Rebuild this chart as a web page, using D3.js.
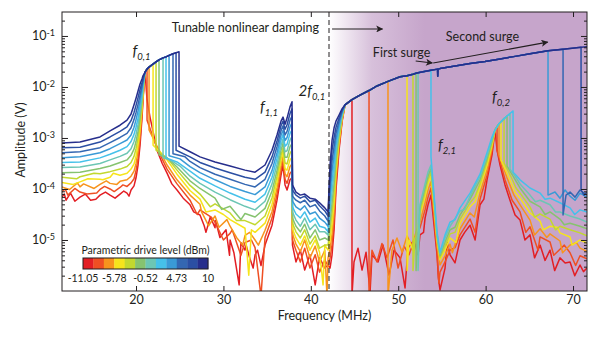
<!DOCTYPE html>
<html>
<head>
<meta charset="utf-8">
<script src="https://cdn.jsdelivr.net/npm/d3@7"></script>
<style>
  body { margin: 0; background: #fff; }
  text { font-family: Lato, 'Open Sans', sans-serif; fill: #231f20; }
</style>
</head>
<body>
<svg id="chart" width="609" height="337"></svg>
<script>
// drive levels (dBm), one sweep per level, red = lowest, navy = highest
const levels = [-11.05, -9.14, -7.22, -5.31, -3.40, -1.48, 0.43, 2.35, 4.26, 6.17, 8.09, 10]
const colors = ['#e31e24', '#ef4f23', '#f7941d', '#f6e41c', '#c2d82f', '#86c36f', '#6cc6b4', '#45c1ea', '#3a9ad6', '#3467b2', '#2b4fa3', '#262e8c']
const cbarTicks = [-11.05, -5.78, -0.52, 4.73, 10]

// all amplitudes are log10(V)
// left wing of f0,1
const fLeft = [11.5, 13.59, 15.88, 17.03, 18.17, 18.97, 19.43, 19.77, 20.0, 20.23, 20.46, 20.69, 20.80, 20.92]
const aLeft = [
  [-4.16, -4.16, -4.12, -4.12, -4.10, -4.08, -4.02, -3.94, -3.78, -3.53, -3.14, -2.59, -2.25, -1.96],
  [-4.06, -4.06, -4.01, -4.00, -3.97, -3.95, -3.88, -3.80, -3.64, -3.40, -3.03, -2.52, -2.21, -1.94],
  [-3.96, -3.96, -3.91, -3.89, -3.85, -3.82, -3.75, -3.65, -3.50, -3.26, -2.92, -2.45, -2.17, -1.92],
  [-3.87, -3.86, -3.81, -3.77, -3.73, -3.69, -3.61, -3.51, -3.36, -3.13, -2.81, -2.38, -2.13, -1.90],
  [-3.77, -3.76, -3.70, -3.66, -3.61, -3.56, -3.48, -3.36, -3.21, -3.00, -2.70, -2.32, -2.08, -1.88],
  [-3.68, -3.67, -3.60, -3.55, -3.48, -3.43, -3.34, -3.22, -3.07, -2.87, -2.59, -2.25, -2.04, -1.86],
  [-3.58, -3.57, -3.50, -3.43, -3.36, -3.30, -3.21, -3.07, -2.93, -2.74, -2.48, -2.18, -2.00, -1.84],
  [-3.48, -3.47, -3.39, -3.32, -3.24, -3.17, -3.07, -2.93, -2.79, -2.61, -2.38, -2.11, -1.95, -1.82],
  [-3.39, -3.37, -3.29, -3.21, -3.11, -3.04, -2.94, -2.79, -2.64, -2.47, -2.27, -2.04, -1.91, -1.80],
  [-3.29, -3.27, -3.19, -3.09, -2.99, -2.91, -2.80, -2.64, -2.50, -2.34, -2.16, -1.98, -1.87, -1.78],
  [-3.19, -3.18, -3.08, -2.98, -2.87, -2.78, -2.66, -2.50, -2.36, -2.21, -2.05, -1.91, -1.83, -1.76],
  [-3.10, -3.08, -2.98, -2.86, -2.75, -2.65, -2.53, -2.35, -2.22, -2.08, -1.94, -1.84, -1.78, -1.75]
]
const nLeft = [
  [[11.8, -4.10], [12.0, -4.22], [12.5, -4.08], [13.0, -4.24], [14.2, -4.10], [14.8, -4.22], [15.4, -4.20], [16.5, -4.06], [17.6, -4.18], [18.6, -4.04], [19.2, -4.14]],
  [[11.9, -4.00], [12.2, -4.12], [13.0, -3.99], [14.4, -4.10], [15.5, -4.08], [16.4, -3.95], [17.5, -4.05], [18.5, -3.92]],
  [[12.4, -4.01], [13.3, -3.88], [14.0, -3.90], [15.2, -3.99], [16.6, -3.84], [17.8, -3.91]],
  [[12.8, -3.91], [14.5, -3.80], [16.2, -3.82], [17.4, -3.69]],
  [[13.2, -3.80], [15.2, -3.69]]
]

// upper branch of f0,1 and where each sweep leaves it
const ridge1 = [[21.03, -1.71], [21.26, -1.65], [21.49, -1.61], [21.95, -1.55], [22.29, -1.51], [22.63, -1.47],
  [23.09, -1.43], [23.43, -1.41], [23.78, -1.38], [24.23, -1.35], [24.58, -1.33], [24.92, -1.31]]
const jump1 = [21.03, 21.26, 21.49, 21.95, 22.29, 22.63, 23.09, 23.43, 23.78, 24.23, 24.58, 24.92]

// right wing of f0,1 up to f1,1 / 2f0,1
const rightStart = [
  [[21.26, -2.25], [21.60, -2.59], [22.40, -3.24], [23.0, -3.50], [23.55, -3.69], [24.1, -3.90], [24.69, -4.02], [25.4, -4.18]],
  [[21.26, -2.65], [22.40, -3.20], [23.55, -3.61], [24.69, -3.90]],
  [[21.49, -2.84], [22.40, -3.16], [23.55, -3.53], [24.69, -3.82]],
  [[21.95, -3.14], [22.75, -3.27], [23.55, -3.43], [24.69, -3.71]],
  [[22.29, -3.24], [23.55, -3.39], [24.69, -3.63]],
  [[22.63, -3.33], [23.55, -3.39], [24.69, -3.57]],
  [[23.09, -3.39], [23.89, -3.43], [25.03, -3.55]],
  [[23.43, -3.39], [24.69, -3.47]],
  [[23.78, -3.35], [25.03, -3.41]],
  [[24.23, -3.31], [25.61, -3.37]],
  [[24.58, -3.24]],
  [[24.92, -3.16]]
]
const fRight = [26.18, 27.32, 29.04, 30.76, 32.47, 33.62, 34.76, 35.56, 36.13, 36.59, 36.82, 37.05, 37.28, 37.62, 37.85]
const aRight = [
  [-4.31, -4.51, -4.76, -5.00, -5.20, -5.29, -5.10, -4.71, -4.22, -3.73, -3.53, -3.92, -4.02, -3.82, -3.78],
  [-4.22, -4.41, -4.65, -4.87, -5.05, -5.15, -4.95, -4.57, -4.10, -3.63, -3.44, -3.81, -3.89, -3.69, -3.65],
  [-4.12, -4.30, -4.53, -4.73, -4.91, -5.00, -4.81, -4.44, -3.98, -3.53, -3.36, -3.70, -3.76, -3.56, -3.51],
  [-4.03, -4.20, -4.41, -4.60, -4.77, -4.85, -4.67, -4.30, -3.87, -3.44, -3.27, -3.60, -3.63, -3.43, -3.38],
  [-3.93, -4.10, -4.29, -4.47, -4.62, -4.70, -4.53, -4.17, -3.75, -3.34, -3.19, -3.49, -3.51, -3.30, -3.24],
  [-3.84, -3.99, -4.18, -4.34, -4.48, -4.55, -4.38, -4.04, -3.64, -3.24, -3.10, -3.38, -3.38, -3.17, -3.11],
  [-3.75, -3.89, -4.06, -4.21, -4.34, -4.41, -4.24, -3.90, -3.52, -3.15, -3.02, -3.27, -3.25, -3.04, -2.97],
  [-3.65, -3.79, -3.94, -4.08, -4.20, -4.26, -4.10, -3.77, -3.40, -3.05, -2.93, -3.16, -3.12, -2.91, -2.84],
  [-3.56, -3.68, -3.82, -3.95, -4.05, -4.11, -3.96, -3.64, -3.29, -2.95, -2.85, -3.05, -2.99, -2.78, -2.70],
  [-3.46, -3.58, -3.71, -3.81, -3.91, -3.96, -3.81, -3.50, -3.17, -2.86, -2.76, -2.94, -2.87, -2.65, -2.57],
  [-3.37, -3.48, -3.59, -3.68, -3.77, -3.81, -3.67, -3.37, -3.06, -2.76, -2.67, -2.83, -2.74, -2.52, -2.43],
  [-3.27, -3.37, -3.47, -3.55, -3.63, -3.67, -3.53, -3.24, -2.94, -2.67, -2.59, -2.73, -2.61, -2.39, -2.29]
]
const nRight = [
  [[26.6, -4.45], [27.8, -4.72], [28.0, -4.85], [28.5, -4.55], [29.1, -4.62], [29.6, -4.95], [30.3, -4.80], [30.7, -5.30], [31.2, -5.25],
    [31.8, -5.88], [32.0, -5.05], [32.6, -5.10], [33.0, -5.35], [33.4, -5.55], [33.9, -5.20], [34.3, -5.50]],
  [[27.0, -4.50], [28.6, -4.55], [30.0, -5.00], [31.0, -4.80], [32.0, -5.30], [33.2, -5.00], [34.3, -6.1]],
  [[27.5, -4.45], [28.3, -4.72], [29.5, -4.75], [30.4, -4.60], [31.5, -4.95], [32.2, -5.10], [33.0, -4.85], [34.0, -5.10]],
  [[28.0, -4.45], [30.0, -4.50], [32.9, -5.69], [33.2, -4.80]],
  [[28.5, -4.35], [31.5, -4.62]],
  [[29.8, -4.40], [32.0, -4.60]]
]

// low level between 2f0,1 and the damping onset
const fGap = [37.90, 38.3, 38.8, 39.3, 39.9, 40.5, 41.0, 41.6, 41.97]
const aGap = [
  [-5.10, -5.43, -5.20, -5.59, -5.29, -5.88, -5.35, -5.55, -5.49],
  [-5.00, -5.20, -5.43, -5.16, -5.55, -5.29, -5.63, -5.39, -5.51],
  [-4.88, -5.08, -5.23, -5.00, -5.35, -5.12, -5.43, -5.20, -5.35],
  [-4.78, -4.96, -5.10, -4.92, -5.20, -5.00, -5.24, -5.10, -5.20],
  [-4.67, -4.84, -4.96, -4.80, -5.08, -4.92, -5.16, -5.10, -5.10],
  [-4.57, -4.73, -4.84, -4.69, -4.96, -4.80, -5.00, -4.96, -5.00],
  [-4.45, -4.61, -4.73, -4.57, -4.80, -4.69, -4.84, -4.84, -4.90],
  [-4.35, -4.49, -4.57, -4.45, -4.65, -4.57, -4.73, -4.76, -4.84],
  [-4.24, -4.35, -4.41, -4.33, -4.49, -4.45, -4.57, -4.65, -4.73],
  [-4.14, -4.22, -4.27, -4.22, -4.35, -4.31, -4.43, -4.53, -4.63],
  [-4.02, -4.12, -4.18, -4.14, -4.25, -4.22, -4.33, -4.43, -4.53],
  [-3.92, -4.06, -4.12, -4.10, -4.18, -4.20, -4.27, -4.37, -4.45]
]
const nGap = [[], [], [[41.85, -6.1]], [[41.4, -5.88]]]

// rise onto the upper branch above 42 MHz
const fRise = [42.20, 42.43, 42.66, 42.88, 43.23, 43.57]
const aRise = [
  [-5.55, -5.29, -4.80, -4.02, -3.24, -2.69],
  [-5.36, -5.09, -4.62, -3.90, -3.17, -2.66],
  [-5.18, -4.88, -4.44, -3.77, -3.11, -2.64],
  [-5.00, -4.68, -4.26, -3.65, -3.05, -2.62],
  [-4.81, -4.47, -4.08, -3.53, -2.99, -2.59],
  [-4.63, -4.27, -3.89, -3.40, -2.92, -2.57],
  [-4.45, -4.06, -3.71, -3.28, -2.86, -2.55],
  [-4.26, -3.86, -3.53, -3.16, -2.80, -2.52],
  [-4.08, -3.65, -3.35, -3.04, -2.74, -2.50],
  [-3.90, -3.45, -3.17, -2.91, -2.67, -2.48],
  [-3.71, -3.24, -2.99, -2.79, -2.61, -2.45],
  [-3.53, -3.04, -2.80, -2.67, -2.55, -2.43]
]
const ridge2 = [[43.91, -2.35], [44.71, -2.25], [45.63, -2.16], [46.66, -2.07], [47.57, -1.98], [48.83, -1.89],
  [50.21, -1.80], [51.01, -1.78], [51.69, -1.75], [52.04, -1.73], [52.27, -1.72], [52.84, -1.70], [53.75, -1.67],
  [54.5, -1.65], [54.52, -1.79], [54.56, -1.65], [54.78, -1.64], [56.50, -1.59], [58.22, -1.54], [59.93, -1.50],
  [61.65, -1.45], [63.37, -1.40], [65.08, -1.35], [67.14, -1.29], [68.86, -1.26], [70.92, -1.22], [71.6, -1.21]]
const drop2 = [44.71, 46.66, 48.83, 51.01, 51.69, 52.04, 52.27, 53.75, 67.14, 68.86, 70.92, 71.6]

// after the drop: noise, f2,1 and f0,2
const tailA = [
  [[44.71, -6.1], [44.94, -5.43], [45.40, -5.16], [45.86, -5.59], [46.32, -5.24], [46.78, -6.02], [47.00, -5.29], [47.69, -5.43],
    [48.26, -5.10], [48.95, -5.69], [49.52, -5.20], [50.21, -5.35], [50.78, -5.94], [51.12, -5.16], [51.81, -5.00], [52.27, -5.29]],
  [[46.66, -6.1], [47.00, -5.20], [47.57, -5.43], [48.14, -5.07], [48.72, -5.35], [49.40, -5.00], [49.98, -5.55], [50.67, -5.12], [51.24, -5.29], [51.92, -4.96]],
  [[48.83, -6.1], [49.29, -5.20], [49.86, -4.96], [50.44, -5.24], [51.01, -4.92], [51.58, -5.12], [52.04, -4.84]],
  [[51.01, -5.6], [51.24, -5.00], [51.69, -5.20], [52.15, -4.84]],
  [[51.69, -5.6], [51.92, -4.96], [52.27, -5.10]],
  [[52.04, -5.6], [52.27, -4.92]],
  [[52.27, -5.6]],
  []
]
const fMid = [52.49, 53.07, 53.41, 53.75, 54.10, 54.44, 54.78, 55.36, 55.93, 57.07, 58.22, 59.36, 60.16, 60.73]
const aMid = [
  [-4.90, -4.57, -4.31, -4.12, -4.71, -5.29, -5.98, -5.55, -5.29, -5.00, -4.71, -4.31, -3.82, -3.33],
  [-4.76, -4.41, -4.16, -3.98, -4.57, -5.20, -5.63, -5.43, -5.20, -4.90, -4.59, -4.20, -3.73, -3.25],
  [-4.65, -4.27, -4.02, -3.86, -4.45, -5.10, -5.49, -5.31, -5.08, -4.78, -4.47, -4.08, -3.63, -3.20],
  [-4.51, -4.14, -3.90, -3.75, -4.33, -5.00, -5.39, -5.20, -4.96, -4.67, -4.35, -3.96, -3.53, -3.14],
  [-4.45, -4.06, -3.82, -3.67, -4.27, -4.96, -5.35, -5.12, -4.88, -4.59, -4.27, -3.90, -3.47, -3.10],
  [-4.37, -3.98, -3.75, -3.59, -4.22, -4.92, -5.31, -5.04, -4.80, -4.51, -4.20, -3.82, -3.41, -3.06],
  [-4.31, -3.90, -3.67, -3.53, -4.18, -4.88, -5.27, -4.96, -4.73, -4.43, -4.14, -3.76, -3.35, -3.02],
  [null, null, null, -3.37, -4.12, -4.84, -5.24, -4.90, -4.65, -4.37, -4.08, -3.71, -3.29, -2.98]
]
const nMid = [
  [[52.9, -4.85], [54.6, -5.75], [55.6, -5.05], [56.5, -5.45], [57.6, -4.85], [58.8, -5.00], [59.8, -4.20]],
  [[54.65, -5.85], [56.5, -5.15], [58.8, -4.85]],
  [[56.2, -5.25], [58.7, -4.55]],
  [[56.6, -5.05], [58.8, -4.25]],
  [[56.5, -4.85], [58.8, -4.15]],
  [[56.5, -4.75]],
  [[57.6, -4.40]],
  [[56.5, -4.60]]
]
const ridge3 = [[61.08, -2.84], [61.31, -2.78], [61.53, -2.72], [61.76, -2.68], [62.11, -2.62], [62.45, -2.57], [62.79, -2.52], [63.14, -2.47]]
const jump3 = [61.08, 61.31, 61.53, 61.76, 62.11, 62.45, 62.79, 63.14]
const tailB = [
  [[61.31, -3.24], [61.65, -3.53], [62.22, -3.92], [62.79, -4.22], [63.37, -4.51]],
  [[61.31, -3.24], [62.22, -3.82], [63.03, -4.22]],
  [[61.53, -3.33], [62.45, -3.78], [63.25, -4.12]],
  [[61.76, -3.43], [62.68, -3.78], [63.37, -4.06]],
  [[62.11, -3.49], [62.91, -3.76], [63.48, -3.98]],
  [[62.45, -3.55], [63.14, -3.75]],
  [[62.79, -3.61], [63.37, -3.75]],
  [[63.14, -3.67], [63.48, -3.73]]
]
const fTail = [63.94, 65.08, 66.23, 67.37, 68.51, 69.66, 70.80, 71.6]
const aTail = [
  [-4.61, -4.90, -5.10, -5.20, -5.35, -5.43, -5.49, -5.55],
  [-4.45, -4.74, -4.94, -5.04, -5.18, -5.25, -5.31, -5.37],
  [-4.31, -4.61, -4.78, -4.88, -5.02, -5.10, -5.16, -5.22],
  [-4.18, -4.47, -4.63, -4.73, -4.86, -4.94, -5.00, -5.06],
  [-4.08, -4.35, -4.49, -4.59, -4.73, -4.80, -4.86, -4.92],
  [-3.98, -4.24, -4.35, -4.45, -4.59, -4.67, -4.73, -4.78],
  [-3.90, -4.12, -4.22, -4.31, -4.45, -4.53, -4.59, -4.65],
  [-3.82, -3.98, -4.08, -4.18, -4.27, -4.37, -4.41, -4.45]
]
const nTail = [
  [[64.5, -5.00], [65.6, -5.35], [66.8, -5.40], [67.9, -5.60], [69.1, -5.45], [70.2, -5.70], [71.2, -5.62]],
  [[64.6, -4.85], [66.0, -5.20], [67.8, -5.30], [69.0, -5.10], [70.3, -5.50]],
  [[65.6, -4.90], [67.0, -4.95], [68.8, -5.25], [70.4, -5.05]],
  [[66.6, -4.80], [68.2, -4.75], [69.9, -5.10]],
  [[65.6, -4.55], [68.0, -4.80]],
  [[66.8, -4.50], [69.0, -4.70]],
  [[65.7, -4.25], [68.0, -4.45]],
  [[66.8, -4.20], [70.2, -4.50]]
]
const tailBlue = [
  [[67.14, -4.12], [67.94, -4.06], [68.51, -4.18], [69.09, -4.02], [69.66, -4.14], [70.23, -4.22], [70.80, -4.08], [71.6, -4.16]],
  [[68.86, -4.51], [69.20, -4.12], [69.66, -4.06], [70.23, -4.16], [70.80, -4.02], [71.6, -4.12]],
  [[70.92, -4.02], [71.26, -4.12], [71.6, -4.06]],
  []
]

const xTicks = [20, 30, 40, 50, 60, 70]
const yLabelled = [1e-1, 1e-2, 1e-3, 1e-4, 1e-5]
const dampStart = 42.08
const dampFull = 53
const peakNames = [['', '0,1'], ['', '1,1'], ['2', '0,1'], ['', '2,1'], ['', '0,2']]
const peakAt = [[19.6, -1.39], [34.19, -2.49], [38.6, -2.18], [54.55, -3.24], [60.73, -2.29]]
const noteText = ['Tunable nonlinear damping', 'First surge', 'Second surge']
const noteAt = [[24.1, -0.92], [47.1, -1.41], [55.45, -1.10]]
const arrowAt = [[[42.43, -0.863], [48.2, -0.863]], [[52.0, -1.49], [53.9, -1.53]], [[54.0, -1.53], [67.1, -1.12]]]

// ---- build sweeps ----
const seg = (grid, vals) => grid.map((f, i) => [f, vals[i]]).filter(d => d[1] != null)
const merge = (...parts) => parts.flat().sort((a, b) => a[0] - b[0])

const curves = levels.map((lv, k) => {
  const pts = []
  pts.push(...merge(seg(fLeft, aLeft[k]), nLeft[k] || []))
  pts.push(...ridge1.filter(d => d[0] <= jump1[k]))
  pts.push(...merge(rightStart[k], seg(fRight, aRight[k]), nRight[k] || []))
  pts.push(...merge(seg(fGap, aGap[k]), nGap[k] || []))
  pts.push(...seg(fRise, aRise[k]))
  pts.push(...ridge2.filter(d => d[0] <= drop2[k]))
  if (k < 8) {
    pts.push(...merge(tailA[k], seg(fMid, aMid[k]), nMid[k] || []))
    pts.push(...ridge3.filter(d => d[0] <= jump3[k]))
    pts.push(...merge(tailB[k], seg(fTail, aTail[k]), nTail[k] || []))
  } else {
    pts.push(...tailBlue[k - 8])
  }
  return pts
})

// ---- draw ----
const svg = d3.select('#chart')
const m = { l: 62, t: 12, r: 587, b: 291 }
const ink = '#231f20'
const purple = '#c6a5cb'

const x = d3.scaleLinear().domain([11.53, 71.6]).range([m.l, m.r])
const y = d3.scaleLog().domain([1e-6, 0.295]).range([m.b, m.t])
const px = d => [x(d[0]), y(10 ** d[1])]

const defs = svg.append('defs')
defs.append('clipPath').attr('id', 'plot').append('rect')
  .attr('x', m.l).attr('y', m.t).attr('width', m.r - m.l).attr('height', m.b - m.t)
const grad = defs.append('linearGradient').attr('id', 'damp')
  .attr('gradientUnits', 'userSpaceOnUse')
  .attr('x1', x(dampStart)).attr('x2', x(dampFull)).attr('y1', 0).attr('y2', 0)
grad.append('stop').attr('offset', 0).attr('stop-color', purple).attr('stop-opacity', 0)
grad.append('stop').attr('offset', 0.45).attr('stop-color', purple).attr('stop-opacity', 0.7)
grad.append('stop').attr('offset', 1).attr('stop-color', purple).attr('stop-opacity', 1)
defs.append('marker').attr('id', 'head').attr('viewBox', '0 0 10 10')
  .attr('refX', 9).attr('refY', 5).attr('markerWidth', 9).attr('markerHeight', 7)
  .attr('markerUnits', 'userSpaceOnUse').attr('orient', 'auto')
  .append('path').attr('d', 'M0,0L10,5L0,10L2.5,5Z').attr('fill', ink)

svg.append('rect').attr('x', x(dampStart)).attr('y', m.t)
  .attr('width', m.r - x(dampStart)).attr('height', m.b - m.t).attr('fill', 'url(#damp)')

const line = d3.line().x(d => x(d[0])).y(d => y(10 ** d[1]))
svg.append('g').attr('clip-path', 'url(#plot)')
  .selectAll('path').data(curves).join('path')
  .attr('d', line).attr('fill', 'none')
  .attr('stroke', (d, i) => colors[i]).attr('stroke-width', 1.5)
  .attr('stroke-linejoin', 'round')

svg.append('line').attr('x1', x(dampStart)).attr('x2', x(dampStart))
  .attr('y1', m.t).attr('y2', m.b)
  .attr('stroke', ink).attr('stroke-dasharray', '5,3')

// axes, ticks inside on all four sides
const minor = []
for (let e = -6; e <= -1; e++) for (let j = 2; j <= 9; j++) if (j * 10 ** e < 0.295) minor.push(j * 10 ** e)
const clean = g => { g.select('.domain').remove(); g.selectAll('line').attr('stroke', ink) }

svg.append('g').attr('transform', `translate(0,${m.b})`)
  .call(d3.axisBottom(x).tickValues(xTicks).tickSize(-5).tickPadding(4).tickFormat(d3.format('d')))
  .call(clean)
  .call(g => g.selectAll('text').attr('font-size', 12.5).attr('fill', ink))
svg.append('g').attr('transform', `translate(0,${m.t})`)
  .call(d3.axisTop(x).tickValues(xTicks).tickSize(-5).tickFormat(''))
  .call(clean)
svg.append('g').attr('transform', `translate(${m.l},0)`)
  .call(d3.axisLeft(y).tickValues(yLabelled).tickSize(-6).tickPadding(7))
  .call(clean)
  .call(g => g.selectAll('.tick text').each(function (d) {
    const t = d3.select(this).text(null).attr('font-size', 12.5).attr('fill', ink)
    t.append('tspan').text('10')
    t.append('tspan').attr('dy', '-0.5em').attr('font-size', 9).text('-' + Math.round(-Math.log10(d)))
  }))
svg.append('g').attr('transform', `translate(${m.l},0)`)
  .call(d3.axisLeft(y).tickValues(minor).tickSize(-3).tickFormat(''))
  .call(clean)
svg.append('g').attr('transform', `translate(${m.r},0)`)
  .call(d3.axisRight(y).tickValues(yLabelled).tickSize(-6).tickFormat(''))
  .call(clean)
svg.append('g').attr('transform', `translate(${m.r},0)`)
  .call(d3.axisRight(y).tickValues(minor).tickSize(-3).tickFormat(''))
  .call(clean)

svg.append('rect').attr('x', m.l).attr('y', m.t).attr('width', m.r - m.l).attr('height', m.b - m.t)
  .attr('fill', 'none').attr('stroke', ink)

svg.append('text').attr('x', (m.l + m.r) / 2).attr('y', 320).attr('text-anchor', 'middle')
  .attr('font-size', 12.5).text('Frequency (MHz)')
svg.append('text').attr('transform', 'translate(25,140) rotate(-90)').attr('text-anchor', 'middle')
  .attr('font-size', 12.5).text('Amplitude (V)')

// peak labels
peakNames.forEach((p, i) => {
  const [lx, ly] = px(peakAt[i])
  const t = svg.append('text').attr('x', lx).attr('y', ly).attr('font-style', 'italic').attr('font-size', 15)
  t.append('tspan').text(p[0] + 'f')
  t.append('tspan').attr('dy', 4).attr('font-size', 9.5).text(p[1])
})

// annotations
noteText.forEach((s, i) => {
  const [lx, ly] = px(noteAt[i])
  svg.append('text').attr('x', lx).attr('y', ly).attr('font-size', 12.5).text(s)
})
arrowAt.forEach(a => {
  const [p0, p1] = a.map(px)
  svg.append('line').attr('x1', p0[0]).attr('y1', p0[1]).attr('x2', p1[0]).attr('y2', p1[1])
    .attr('stroke', ink).attr('stroke-width', 1.1).attr('marker-end', 'url(#head)')
})

// colour bar
const cb = { x0: 83, x1: 208, y: 258, h: 11 }
const cbBand = d3.scaleBand().domain(d3.range(colors.length)).range([cb.x0, cb.x1])
const cbScale = d3.scaleLinear().domain([levels[0], levels[levels.length - 1]]).range([cb.x0, cb.x1])
svg.append('g').selectAll('rect').data(colors).join('rect')
  .attr('x', (d, i) => cbBand(i)).attr('y', cb.y)
  .attr('width', cbBand.bandwidth() + 0.3).attr('height', cb.h).attr('fill', d => d)
svg.append('rect').attr('x', cb.x0).attr('y', cb.y).attr('width', cb.x1 - cb.x0).attr('height', cb.h)
  .attr('fill', 'none').attr('stroke', ink).attr('stroke-width', 1)
svg.append('text').attr('x', (cb.x0 + cb.x1) / 2).attr('y', 254).attr('text-anchor', 'middle')
  .attr('font-size', 10.5).text('Parametric drive level (dBm)')
svg.append('g').selectAll('text').data(cbarTicks).join('text')
  .attr('x', d => cbScale(d)).attr('y', 282).attr('text-anchor', 'middle')
  .attr('font-size', 10.5).text(d => d)
</script>
</body>
</html>
